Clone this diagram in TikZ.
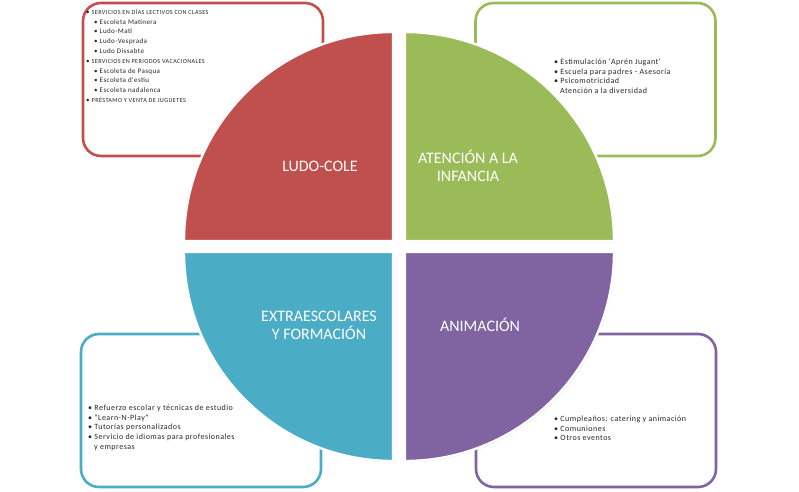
\documentclass[tikz,border=0pt]{standalone}
\usepackage{fontspec}
\setmainfont{Carlito}
\newfontfamily\listfont[LetterSpace=6]{Carlito}
\usetikzlibrary{positioning,shadows}
\definecolor{ludored}{RGB}{192,80,77}
\definecolor{infgreen}{RGB}{155,187,89}
\definecolor{extblue}{RGB}{75,172,198}
\definecolor{animpurple}{RGB}{128,100,162}

\begin{document}
\begin{tikzpicture}[x=1pt,y=-1pt,
  infobox/.style={draw=#1,line width=2.6pt,fill=white,rounded corners=18pt,
    minimum width=240pt,minimum height=153pt,inner sep=0pt},
  quarter/.style={fill=#1,draw=white,line width=2.4pt,
    drop shadow={opacity=0.25,shadow xshift=1pt,shadow yshift=-1.2pt}},
  title/.style={text=white,font=\fontsize{16}{18}\selectfont,align=center},
  items/.style={anchor=north west,inner sep=0pt,align=left,text=black!85,
    font=\listfont\fontsize{8}{9.6}\selectfont}]
  \useasboundingbox (0,0) rectangle (799,491);
  % boxes behind the wheel
  \node[infobox=ludored]    (ludobox) at (203,79.5)  {};
  \node[infobox=infgreen]   (infbox)  at (595.5,79.5) {};
  \node[infobox=extblue]    (extbox)  at (201,410.5) {};
  \node[infobox=animpurple] (animbox) at (596,410.5) {};
  % the four quarters
  \path[quarter=ludored]    (393,241) -- (184,241) arc[start angle=180,end angle=270,radius=209] -- cycle;
  \path[quarter=infgreen]   (405,241) -- (405,32)  arc[start angle=270,end angle=360,radius=209] -- cycle;
  \path[quarter=extblue]    (393,252) -- (184,252) arc[start angle=180,end angle=90,radius=209] -- cycle;
  \path[quarter=animpurple] (405,252) -- (614,252) arc[start angle=0,end angle=90,radius=209] -- cycle;
  % titles
  \node[title] (ludo) at (320,166) {LUDO-COLE};
  \node[title] (inf)  at (468,166) {ATENCIÓN A LA\\INFANCIA};
  \node[title] (ext)  at (319,325) {EXTRAESCOLARES\\Y FORMACIÓN};
  \node[title] (anim) at (480,325) {ANIMACIÓN};
  % lists
  \node[items,font=\listfont\fontsize{7}{9.8}\selectfont] (ludolist) at (86,9)
    {\textbullet\ {\fontsize{6.2}{9.8}\selectfont SERVICIOS EN DÍAS LECTIVOS CON CLASES}\\
     \hspace{8pt}\textbullet\ Escoleta Matinera\\
     \hspace{8pt}\textbullet\ Ludo-Matí\\
     \hspace{8pt}\textbullet\ Ludo-Vesprada\\
     \hspace{8pt}\textbullet\ Ludo Dissabte\\
     \textbullet\ {\fontsize{6.2}{9.8}\selectfont SERVICIOS EN PERIODOS VACACIONALES}\\
     \hspace{8pt}\textbullet\ Escoleta de Pasqua\\
     \hspace{8pt}\textbullet\ Escoleta d'estiu\\
     \hspace{8pt}\textbullet\ Escoleta nadalenca\\
     \textbullet\ {\fontsize{6.2}{9.8}\selectfont PRÉSTAMO Y VENTA DE JUGUETES}};
  \node[items] (inflist) at (554,59)
    {\textbullet\ Estimulación 'Aprén Jugant'\\
     \textbullet\ Escuela para padres - Asesoría\\
     \textbullet\ Psicomotricidad\\
     \hspace{6pt}Atención a la diversidad};
  \node[items] (extlist) at (88,405)
    {\textbullet\ Refuerzo escolar y técnicas de estudio\\
     \textbullet\ "Learn-N-Play"\\
     \textbullet\ Tutorías personalizados\\
     \textbullet\ Servicio de idiomas para profesionales\\
     \hspace{6pt}y empresas};
  \node[items] (animlist) at (554,416)
    {\textbullet\ Cumpleaños: catering y animación\\
     \textbullet\ Comuniones\\
     \textbullet\ Otros eventos};
\end{tikzpicture}
\end{document}
